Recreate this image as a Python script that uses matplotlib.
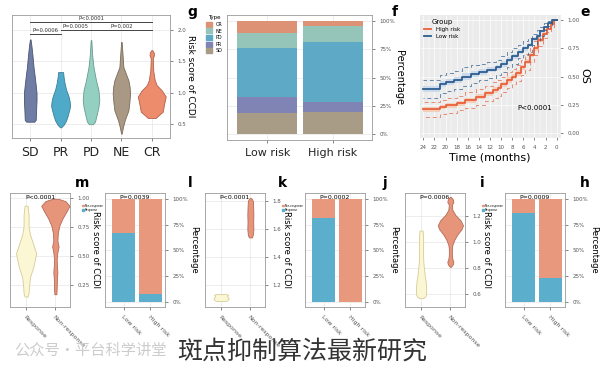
import numpy as np
import matplotlib.pyplot as plt
from matplotlib.patches import Patch
from matplotlib.lines import Line2D

plt.rcParams['font.family'] = ['DejaVu Sans', 'Noto Sans CJK SC']

W, H = 600, 369

# ---------------- data ----------------
# panel g: violins (y level, half width in px)
g_cats = ["SD", "PR", "PD", "NE", "CR"]
g_y = {
    "SD": [0.54, 0.57, 0.67, 0.88, 1.0, 1.15, 1.3, 1.41, 1.6, 1.75, 1.85],
    "PR": [0.45, 0.49, 0.56, 0.63, 0.72, 0.79, 0.87, 0.94, 1.05, 1.15, 1.25, 1.33],
    "PD": [0.5, 0.54, 0.67, 0.78, 0.88, 1.04, 1.2, 1.41, 1.6, 1.84],
    "NE": [0.35, 0.45, 0.57, 0.72, 0.85, 0.99, 1.1, 1.2, 1.41, 1.6, 1.81],
    "CR": [0.6, 0.63, 0.7, 0.79, 0.87, 0.94, 1.04, 1.12, 1.2, 1.35, 1.55, 1.6, 1.64, 1.68],
}
g_w = {
    "SD": [4, 5.5, 5.7, 6.3, 6.3, 5.3, 4.2, 3.3, 2.2, 1.2, 0.3],
    "PR": [0.5, 3, 5.5, 7, 8.5, 9.5, 9, 8, 5.5, 4, 3, 2.5],
    "PD": [2, 4, 6, 7.5, 8.3, 7.5, 5, 2.5, 1.2, 0.3],
    "NE": [0.3, 1.5, 3.5, 7, 8, 8.7, 8.2, 7, 2, 1.2, 0.3],
    "CR": [4, 6, 11, 12, 13, 14, 10, 5, 3, 1.5, 1, 2.2, 2, 0.5],
}
g_brackets = [(0, 4, 2.13, "P<0.0001"), (0, 1, 1.93, "P=0.0006"),
              (1, 2, 2.0, "P=0.0005"), (2, 4, 2.0, "P=0.002")]

# panel f: stacked percentages (bottom -> top: SD, PR, PD, NE, CR)
f_groups = ["Low risk", "High risk"]
f_types = ["SD", "PR", "PD", "NE", "CR"]
f_vals = {
    "SD": [18.5, 19.5],
    "PR": [14.5, 8.5],
    "PD": [43.0, 53.0],
    "NE": [13.0, 15.0],
    "CR": [11.0, 4.0],
}

# panel e: Kaplan-Meier
t_low = [0, 0.8, 1.5, 2.2, 3.0, 3.6, 4.5, 5.2, 6.0, 7.0, 8.0, 9.0, 10.0, 11.0,
         12.5, 14.0, 15.5, 17.0, 18.5, 20.0, 21.0, 24.0]
s_low = [1.0, 0.97, 0.94, 0.9, 0.86, 0.83, 0.78, 0.75, 0.72, 0.68, 0.65, 0.61,
         0.58, 0.56, 0.54, 0.52, 0.5, 0.47, 0.45, 0.43, 0.39, 0.39]
ci_low = [0.0, 0.02, 0.03, 0.04, 0.05, 0.05, 0.06, 0.06, 0.06, 0.07, 0.07, 0.07,
          0.07, 0.07, 0.07, 0.08, 0.08, 0.08, 0.08, 0.08, 0.08, 0.08]
t_high = [0, 0.5, 1, 1.8, 2.5, 3.3, 4, 4.8, 5.7, 6.5, 7.3, 8.1, 9, 10, 10.5,
          11.5, 12.9, 14.5, 16.5, 18, 20, 21, 24]
s_high = [1.0, 0.96, 0.92, 0.88, 0.82, 0.75, 0.69, 0.63, 0.58, 0.53, 0.5, 0.47,
          0.43, 0.4, 0.38, 0.35, 0.32, 0.29, 0.265, 0.245, 0.23, 0.21, 0.21]
ci_high = [0.0, 0.02, 0.03, 0.04, 0.05, 0.06, 0.06, 0.07, 0.07, 0.07, 0.07, 0.07,
           0.07, 0.07, 0.07, 0.07, 0.07, 0.07, 0.065, 0.065, 0.065, 0.065, 0.065]

# bottom row violins (Response, Non-response)
resp = ["Response", "Non-response"]
m_y = [[0.15, 0.18, 0.25, 0.32, 0.4, 0.52, 0.6, 0.68, 0.75, 0.85, 0.93],
       [0.17, 0.22, 0.3, 0.36, 0.42, 0.47, 0.53, 0.58, 0.63, 0.7, 0.76, 0.82,
        0.88, 0.93, 0.97, 0.99]]
m_w = [[1.5, 2.5, 3, 4, 7, 10, 7, 4, 2.5, 2.5, 1.5],
       [1, 1.3, 1.5, 2, 1.5, 1.3, 2, 3.2, 2, 2.5, 4, 7, 11, 14, 10, 3]]
k_y = [[1.085, 1.09, 1.1, 1.11, 1.12, 1.13, 1.135],
       [1.54, 1.56, 1.6, 1.65, 1.7, 1.75, 1.8, 1.82]]
k_w = [[4, 6, 7.5, 7, 6, 7, 5],
       [1.5, 2.5, 3, 2.8, 3, 2.8, 2.5, 1]]
i_y = [[0.57, 0.58, 0.6, 0.65, 0.7, 0.75, 0.8, 0.85, 0.9, 0.95, 1.0, 1.05, 1.09],
       [0.81, 0.83, 0.85, 0.87, 0.9, 0.95, 0.98, 1.02, 1.06, 1.1, 1.13, 1.17,
        1.21, 1.25, 1.29, 1.31, 1.33, 1.35]]
i_w = [[2, 4, 5, 5, 4.5, 3.5, 2.8, 2.2, 2, 2, 2, 2, 1.5],
       [0.5, 2.5, 3, 2, 1.5, 1.5, 2, 4, 7, 11, 12.5, 10, 5, 2, 1.5, 3, 2.5, 0.5]]

# bottom row bars: blue (Response) share for Low risk / High risk
bar_groups = ["Low risk", "High risk"]
l_blue = [67, 8]
j_blue = [82, 0]
h_blue = [86, 23]

# ---------------- drawing ----------------
fig = plt.figure(figsize=(6, 3.69), dpi=100)
fig.patch.set_facecolor('white')


def add_ax(x0, y0, x1, y1):
    return fig.add_axes([x0 / W, 1 - y1 / H, (x1 - x0) / W, (y1 - y0) / H])


def base_style(ax, grey=False):
    ax.set_facecolor('#ebebeb' if grey else 'white')
    ax.grid(True, color='white' if grey else '#e6e6e6', lw=0.5)
    ax.set_axisbelow(True)
    for s in ax.spines.values():
        s.set_color('#9a9a9a' if not grey else '#ebebeb')
        s.set_linewidth(0.6)
    ax.yaxis.tick_right()
    ax.yaxis.set_label_position('right')
    ax.tick_params(axis='both', length=2, width=0.5, colors='#555555', labelsize=4)


def violin(ax, pos, ys, ws, pitch, fc, ec):
    w = np.array(ws) / pitch
    ax.fill_betweenx(ys, pos - w, pos + w, facecolor=fc, edgecolor=ec, lw=0.6)


def panel_label(x, y, s):
    fig.text(x / W, 1 - y / H, s, fontsize=10, fontweight='bold', ha='center', va='center')


# ---- g ----
ax = add_ax(12, 15, 170, 138)
base_style(ax)
g_col = {"SD": ('#6f7ca3', '#4a5372'), "PR": ('#4fa9c8', '#3b7f97'),
         "PD": ('#94d0c1', '#6a9b8f'), "NE": ('#a99883', '#7a6c5c'),
         "CR": ('#ec8c6c', '#b0624a')}
for i, c in enumerate(g_cats):
    violin(ax, i, g_y[c], g_w[c], 30.4, *g_col[c])
for a, b, yy, txt in g_brackets:
    ax.plot([a, b], [yy, yy], color='#444444', lw=0.7)
    ax.text((a + b) / 2, yy + 0.02, txt, fontsize=3.8, ha='center', va='bottom', color='#333333')
ax.set_xlim(-0.6, 4.6)
ax.set_ylim(0.28, 2.24)
ax.set_yticks([0.5, 1.0, 1.5, 2.0])
ax.set_xticks(range(len(g_cats)))
ax.set_xticklabels(g_cats, fontsize=9, color='#222222')
ax.set_ylabel("Risk score of CCDI", fontsize=6.5, rotation=270, labelpad=6)
panel_label(192, 12, "g")

# ---- f ----
ax = add_ax(227, 15, 372, 140)
base_style(ax)
f_col = {"CR": '#dd9275', "NE": '#95c4b8', "PD": '#5ea9c6', "PR": '#7f84b5', "SD": '#a89c86'}
bottom = np.zeros(2)
for t in f_types:
    ax.bar([0, 1], f_vals[t], bottom=bottom, width=0.91, color=f_col[t])
    bottom += np.array(f_vals[t])
ax.set_xlim(-0.61, 1.59)
ax.set_ylim(-5.3, 105.3)
ax.set_yticks([0, 25, 50, 75, 100])
ax.set_yticklabels(["0%", "25%", "50%", "75%", "100%"])
ax.set_xticks([0, 1])
ax.set_xticklabels(f_groups, fontsize=8, color='#222222')
ax.set_ylabel("Percentage", fontsize=7, rotation=270, labelpad=6)
handles = [Patch(color=f_col[t], label=t) for t in ["CR", "NE", "PD", "PR", "SD"]]
ax.legend(handles=handles, title="Type", loc='upper right', bbox_to_anchor=(-0.01, 1.02),
          fontsize=3.5, title_fontsize=4, frameon=False, handlelength=1.2, handleheight=1.2,
          labelspacing=0.3, borderpad=0.1)
panel_label(395, 12, "f")

# ---- e ----
ax = add_ax(420, 15, 560, 137)
base_style(ax, grey=True)
for t, s, ci, col, band in [(t_high, s_high, ci_high, '#e8613c', '#f6c7ad'),
                            (t_low, s_low, ci_low, '#2d5d8f', '#c4d6ea')]:
    s = np.array(s)
    ci = np.array(ci)
    ax.fill_between(t, s - ci / 3, s + ci / 3, step='post', color=band, alpha=0.8, lw=0)
    ax.step(t, s + ci, where='post', color=col, lw=0.7, ls=(0, (4, 3)), alpha=0.7)
    ax.step(t, s - ci, where='post', color=col, lw=0.7, ls=(0, (4, 3)), alpha=0.7)
    ax.step(t, s, where='post', color=col, lw=1.3)
ax.set_xlim(24.6, -0.6)
ax.set_ylim(-0.035, 1.044)
ax.set_xticks(range(0, 25, 2))
ax.set_xticks(np.arange(0, 25, 1), minor=True)
ax.grid(True, which='minor', color='white', lw=0.3)
ax.tick_params(which='minor', length=0)
ax.set_yticks([0, 0.25, 0.5, 0.75, 1.0])
ax.set_yticklabels(["0.00", "0.25", "0.50", "0.75", "1.00"])
ax.set_xlabel("Time (months)", fontsize=8, labelpad=2)
ax.set_ylabel("OS", fontsize=8, rotation=270, labelpad=7)
ax.text(3.9, 0.22, "P<0.0001", fontsize=5, ha='center', va='center')
lh = [Line2D([], [], color='#e8613c', lw=1.3, label="High risk"),
      Line2D([], [], color='#2d5d8f', lw=1.3, label="Low risk")]
ax.legend(handles=lh, title="Group", loc='upper left', fontsize=4, title_fontsize=5,
          frameon=False, handlelength=1.2, labelspacing=0.3, borderpad=0.3)
panel_label(585, 12, "e")

# ---- bottom row ----
yel = ('#fbf6d3', '#d6cc96')
sal = ('#e6957b', '#b46a55')
bar_sal = '#e8987d'
bar_blue = '#5cafcc'


def violin_panel(x0, yl, yt, ylab, ys, ws, ptxt, lab, lx):
    ax = add_ax(x0, 193, x0 + 60, 307)
    base_style(ax)
    pitch = 29.0
    violin(ax, 0, ys[0], ws[0], pitch, *yel)
    violin(ax, 1, ys[1], ws[1], pitch, *sal)
    ax.set_xlim(-0.55, 1.5)
    ax.set_ylim(*yl)
    ax.set_yticks(yt)
    ax.set_yticklabels(ylab)
    ax.set_xticks([0, 1])
    ax.set_xticklabels(resp, rotation=-45, ha='left', rotation_mode='anchor', fontsize=4.5,
                       color='#555555')
    ax.text(0.5, 0.985, ptxt, transform=ax.transAxes, fontsize=4.5, ha='center', va='top')
    ax.set_ylabel("Risk score of CCDI", fontsize=6, rotation=270, labelpad=7)
    panel_label(lx, 183, lab)


def bar_panel(x0, blue, ptxt, lab, lx):
    ax = add_ax(x0, 193, x0 + 60, 307)
    base_style(ax)
    blue = np.array(blue)
    ax.bar([0, 1], blue, width=0.85, color=bar_blue)
    ax.bar([0, 1], 100 - blue, bottom=blue, width=0.85, color=bar_sal)
    ax.set_xlim(-0.69, 1.54)
    ax.set_ylim(-4.9, 105.8)
    ax.set_yticks([0, 25, 50, 75, 100])
    ax.set_yticklabels(["0%", "25%", "50%", "75%", "100%"])
    ax.set_xticks([0, 1])
    ax.set_xticklabels(bar_groups, rotation=-45, ha='left', rotation_mode='anchor', fontsize=4.5,
                       color='#555555')
    ax.text(0.5, 0.985, ptxt, transform=ax.transAxes, fontsize=4.5, ha='center', va='top')
    ax.set_ylabel("Percentage", fontsize=6, rotation=270, labelpad=7)
    hh = [Patch(color=bar_sal, label="Non-response"), Patch(color=bar_blue, label="Response")]
    ax.legend(handles=hh, loc='upper right', bbox_to_anchor=(-0.005, 0.92), fontsize=2,
              frameon=False, handlelength=0.6, handleheight=0.6, handletextpad=0.3,
              labelspacing=0.2, borderpad=0)
    panel_label(lx, 183, lab)


violin_panel(10, (0.06, 1.04), [0.25, 0.5, 0.75, 1.0], ["0.25", "0.50", "0.75", "1.00"],
             m_y, m_w, "P<0.0001", "m", 82)
bar_panel(105, l_blue, "P=0.0039", "l", 190)
violin_panel(205, (1.043, 1.857), [1.2, 1.4, 1.6, 1.8], ["1.2", "1.4", "1.6", "1.8"],
             k_y, k_w, "P<0.0001", "k", 282)
bar_panel(305, j_blue, "P=0.0002", "j", 385)
violin_panel(405, (0.5, 1.38), [0.6, 0.8, 1.0, 1.2], ["0.6", "0.8", "1.0", "1.2"],
             i_y, i_w, "P=0.0006", "i", 482)
bar_panel(505, h_blue, "P=0.0009", "h", 585)

# caption + watermark
fig.text(302 / W, 1 - 352 / H, "斑点抑制算法最新研究", fontsize=18, color='#333333',
         ha='center', va='center', family=['Noto Sans CJK SC', 'DejaVu Sans'])
fig.text(90 / W, 1 - 350 / H, "公众号·平台科学讲堂", fontsize=11, color='#cccccc',
         ha='center', va='center', family=['Noto Sans CJK SC', 'DejaVu Sans'])

fig.savefig("out.png", dpi=100)
